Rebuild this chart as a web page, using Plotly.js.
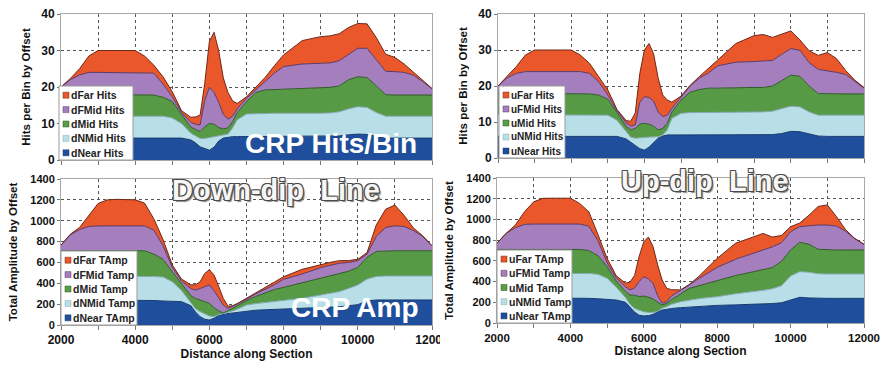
<!DOCTYPE html>
<html>
<head>
<meta charset="utf-8">
<script src="https://cdn.plot.ly/plotly-3.0.1.min.js"></script>
<style>html,body{margin:0;padding:0;background:#fff;}#chart{width:881px;height:368px;}</style>
</head>
<body>
<div id="chart"></div>
<script>
// Distance along section (shared x positions of every series)
const distance = [2000,2250,2500,2750,3000,3250,3500,4000, 4250,4500,4750,5000,5250, 5500,5625,5750,5875,6000,6125, 6250,6375,6500,6625,6750,7000, 7250,7500,7750,8000,8500,9000,9250, 9500,9750,10000,10250,10500,10750,11000, 11250,11500,11750,12000];

// Values are the stacked level (top of each band).
// ---- Down-dip line, hits per bin ----
const dNearHits = [6,6,6,6,6,6,6,6, 6,6,6,6,6, 5.5,4.7,3.6,3.2,2.7,3.5, 5.2,6,6.3,6.4,6.4,6.4, 6.5,6.5,6.5,6.5,6.5,6.5,6.5, 6.6,6.9,7.1,7,6.5,6,6, 6,6,6,6];
const dNMidHits = [12,12,12,12,12,12,12,12, 12,12,12,11.5,10, 7.3,6.5,5.9,5.9,6.1,6.3, 6.5,6.8,7.1,8.8,11,12.6, 12.7,12.8,12.8,12.8,12.7,12.8,12.9, 13.2,14,14.6,14.4,13,12,12, 12,12,12,12];
const dMidHits = [18,18,18,18,18,18,18,18, 18,17.8,17.2,16,12.5, 9,8.4,7.8,9.1,10,9.8, 8.9,8.5,8.8,10.5,13,16, 18.5,19.2,19.4,19.4,19.6,19.8,19.9, 20.3,22,22.8,22.6,20.3,17.9,17.8, 17.8,17.8,17.8,17.8];
const dFMidHits = [20,22,23.3,24,24,24,24,24, 24,23.8,20.8,17.3,13, 10.3,9.8,9.6,16.3,19.9,18.5, 15.8,12.5,11.2,12,14,16.9, 19.2,21.3,23.8,25.6,26.3,26.5,26.6, 27.2,29,30.6,30.6,27.5,24.3,24.2, 24,23.2,21.5,19.5];
const dFarHits = [20,22.3,25,28.5,30,30,30,30, 28.5,26,22.8,18.7,13.5, 11.7,11.8,12.3,21,32.5,35, 30,22.5,18.5,16.2,15.5,17.3, 20,22.6,25.8,28.8,32.7,33.8,34, 34.6,36.3,37.4,37.3,33.5,29,28.1, 26.3,24,21.8,19.6];

// ---- Up-dip line, hits per bin ----
const uNearHits = [6,6,6,6,6,6,6,6, 6,6,6,6,6, 5.3,4.3,3.5,2.6,2.2,3, 4.3,5.5,6.1,6.4,6.4,6.4, 6.4,6.4,6.4,6.4,6.4,6.4,6.4, 6.5,6.8,7.4,7.3,6.6,6.1,6, 6,6,6,6];
const uNMidHits = [12,12,12,12,12,12,12,12, 12,12,12,11.9,10.5, 7.2,5.8,5.5,5.5,5.7,5.8, 5.9,5.9,6.4,7.8,11,12.4, 12.6,12.6,12.6,12.6,12.6,12.6,12.8, 13,13.7,14.4,14.2,12.8,11.9,11.9, 11.9,11.9,11.9,11.9];
const uMidHits = [18,18,18,18,18,18,18,18, 18,17.8,17.5,16.3,12.7, 8.8,7.8,8.2,9.4,9.6,9.4, 8.8,7.8,8.2,9.6,12.8,16.1, 18.3,19,19.4,19.4,19.6,19.6,19.6, 20,21.5,23,22.7,20,17.9,17.8, 17.8,17.8,17.8,17.8];
const uFMidHits = [20,22.3,23.5,24,24,24,24,24, 24,23.5,21.2,17.5,13.2, 9.8,8.9,9.2,15.5,17,16.8, 15.8,12.8,11.5,11.9,13.8,17, 20,22.2,23.6,25.6,26.6,26.8,26.9, 27.1,28.8,30.4,29.9,26.5,24.6,24.3, 23.8,23.2,21.3,19.4];
const uFarHits = [20,22.8,25.4,28.6,30,30,30,30, 28.6,26.3,22.6,18.9,13.5, 10.4,10.2,12.5,23.5,30,31.8, 29,22.3,17.5,16.1,15.5,17.2, 20.2,22.6,25,27.2,31.8,34,34.3, 33.5,34.4,35.3,32.8,29.8,28.5,29.3, 27.6,24.3,21.6,19.6];

// ---- Down-dip line, total amplitude ----
const dNearTAmp = [240,240,240,240,240,240,240,240, 240,235,230,224,224, 185,125,80,55,48,65, 92,103,110,115,120,135, 142,146,150,150,155,165,170, 175,185,195,230,240,240,240, 240,240,240,240];
const dNMidTamp = [470,470,470,470,470,470,470,470, 470,465,460,415,330, 210,155,128,105,86,80, 100,110,120,135,150,192, 205,215,225,240,256,288,305, 320,350,383,440,465,470,470, 470,470,470,470];
const dMidTamp = [710,712,712,712,712,712,712,712, 712,680,630,511,390, 280,255,240,225,208,165, 135,115,140,160,185,233, 275,310,340,361,406,447,468, 490,515,553,650,705,712,712, 712,712,712,712];
const dFMidTamp = [765,865,915,945,950,950,950,950, 950,910,760,553,420, 350,335,350,367,383,330, 265,190,160,180,200,246, 300,345,385,438,489,550,572, 592,600,617,680,850,935,950, 945,905,850,760];
const dFarTAmp = [765,870,935,1055,1165,1200,1205,1200, 1170,1020,820,575,440, 385,385,415,495,530,480, 370,255,180,185,205,256, 305,360,405,463,534,582,600, 617,618,630,695,960,1110,1150, 1050,930,855,760];

// ---- Up-dip line, total amplitude ----
const uNearTAmp = [245,245,245,245,245,245,245,245, 245,238,234,228,222, 200,150,105,75,68,72, 82,108,125,132,140,148, 155,160,165,170,175,180,183, 188,195,222,248,242,238,238, 238,238,238,238];
const uNMidTamp = [475,475,475,475,475,475,475,475, 475,478,470,431,345, 245,180,140,123,108,102, 102,112,142,158,180,206, 222,235,245,254,282,302,315, 330,360,454,496,490,475,473, 473,473,473,473];
const uMidTamp = [710,710,710,710,710,710,710,710, 710,700,650,544,405, 305,270,268,255,260,250, 232,205,174,190,225,280, 335,360,385,415,458,496,512, 535,595,705,780,760,712,705, 705,705,705,705];
const uFMidTamp = [770,866,920,952,955,955,955,955, 955,935,795,582,435, 350,320,338,400,447,425, 385,265,192,205,260,312, 370,430,480,537,615,673,705, 735,775,882,930,940,946,946, 936,885,815,760];
const uFarTAmp = [770,866,946,1075,1170,1204,1205,1205, 1155,1075,855,624,455, 385,395,460,645,785,830, 740,565,415,335,322,319, 375,450,535,624,770,833,865, 830,845,930,965,1040,1125,1140, 1027,900,815,760];

// Series names (near -> far)
const dHitsNames = ['dNear Hits','dNMid Hits','dMid Hits','dFMid Hits','dFar Hits'];
const uHitsNames = ['uNear Hits','uNMid Hits','uMid Hits','uFMid Hits','uFar Hits'];
const dAmpNames = ['dNear TAmp','dNMid Tamp','dMid Tamp','dFMid Tamp','dFar TAmp'];
const uAmpNames = ['uNear TAmp','uNMid Tamp','uMid Tamp','uFMid Tamp','uFar TAmp'];

const yTitles = ['Hits per Bin by Offset','Total Amplitude by Offset'];
const xTitle = 'Distance along Section';

// ---------------- styling ----------------
const W = 881, H = 368;
const PX = v => v / W;
const PY = v => 1 - v / H;
const FONT = 'Liberation Sans, Arial, Helvetica, sans-serif';

const fillColors = ['#1f4f9c', '#b8dfe8', '#5a9d47', '#a57ebe', '#e9572b'];
const lineColors = ['#15386f', '#86aab5', '#2f5a26', '#5a3a6a', '#6e2818'];
const GRID = '#555555';

const panels = [
  {ax: '', names: dHitsNames, data: [dNearHits,dNMidHits,dMidHits,dFMidHits,dFarHits],
   xd: [61, 432], yd: [14, 160], yr: [0, 40], dt: 10, leg: [59, 133, 86, 160], fs: 10.5, xlab: false, xfs: 12, ytitle: yTitles[0]},
  {ax: '2', names: uHitsNames, data: [uNearHits,uNMidHits,uMidHits,uFMidHits,uFarHits],
   xd: [498, 864], yd: [14, 158], yr: [0, 40], dt: 10, leg: [499, 565, 86, 158], fs: 10, xlab: false, xfs: 12, ytitle: yTitles[0]},
  {ax: '3', names: dAmpNames, data: [dNearTAmp,dNMidTamp,dMidTamp,dFMidTamp,dFarTAmp],
   xd: [61, 432], yd: [179, 325], yr: [0, 1400], dt: 200, leg: [61, 137, 251, 325], fs: 10.5, xlab: true, xfs: 12, ytitle: yTitles[1]},
  {ax: '4', names: uAmpNames, data: [uNearTAmp,uNMidTamp,uMidTamp,uFMidTamp,uFarTAmp],
   xd: [497, 864], yd: [178, 323], yr: [0, 1400], dt: 200, leg: [497, 572, 250, 323], fs: 10.5, xlab: true, xfs: 11.5, ytitle: yTitles[1]}
];

const traces = [];
const shapes = [];
const annotations = [];
const layout = {
  width: W, height: H, autosize: false,
  margin: {l: 0, r: 0, t: 0, b: 0},
  paper_bgcolor: '#ffffff', plot_bgcolor: '#ffffff',
  showlegend: false,
  font: {family: FONT, color: '#111'}
};

panels.forEach(p => {
  p.data.forEach((vals, i) => {
    const t = {
      type: 'scatter', mode: 'lines', name: p.names[i],
      x: distance, y: vals,
      xaxis: 'x' + p.ax, yaxis: 'y' + p.ax,
      fill: i === 0 ? 'tozeroy' : 'tonexty',
      fillcolor: fillColors[i],
      line: {color: lineColors[i], width: 1},
      hoverinfo: 'x+y+name'
    };
    if (i === 2) {
      t.fillpattern = {shape: '.', size: 2, solidity: 0.3, fgcolor: '#4a8a3c', bgcolor: '#5b9f48'};
    }
    traces.push(t);
  });

  layout['xaxis' + p.ax] = {
    domain: [PX(p.xd[0]), PX(p.xd[1])], anchor: 'y' + p.ax,
    range: [2000, 12000], tick0: 2000, dtick: 2000, tickformat: 'd',
    showticklabels: p.xlab, ticklabeloverflow: 'allow',
    tickfont: {family: FONT, size: p.xfs, weight: 'bold', color: '#111'},
    ticks: 'outside', ticklen: 4, tickcolor: '#777',
    showgrid: true, gridcolor: GRID, griddash: 'dot', gridwidth: 1,
    minor: {dtick: 1000, showgrid: true, gridcolor: GRID, griddash: 'dot', gridwidth: 1, ticks: 'outside', ticklen: 4, tickcolor: '#777'},
    showline: true, mirror: true, linecolor: '#a8a8a8', linewidth: 1,
    zeroline: false,
    title: p.xlab ? {text: xTitle, font: {family: FONT, size: 12, weight: 'bold', color: '#111'}, standoff: 2} : {text: ''}
  };
  layout['yaxis' + p.ax] = {
    domain: [PY(p.yd[1]), PY(p.yd[0])], anchor: 'x' + p.ax,
    range: p.yr, dtick: p.dt, tickformat: 'd',
    tickfont: {family: FONT, size: p.dt === 10 ? 12 : 11, weight: 'bold', color: '#111'},
    ticks: 'outside', ticklen: 3, tickcolor: '#777',
    showgrid: true, gridcolor: GRID, griddash: 'dot', gridwidth: 1,
    showline: true, mirror: true, linecolor: '#a8a8a8', linewidth: 1,
    zeroline: false,
    title: {text: p.ytitle, font: {family: FONT, size: 11.5, weight: 'bold', color: '#111'}, standoff: p.dt === 10 ? 8 : 10}
  };

  // legend box drawn over the plot area (far at top, near at bottom)
  const [lx0, lx1, ly0, ly1] = p.leg;
  shapes.push({type: 'rect', xref: 'paper', yref: 'paper', layer: 'above',
    x0: PX(lx0), x1: PX(lx1), y0: PY(ly1), y1: PY(ly0),
    fillcolor: '#ffffff', line: {color: '#9a9a9a', width: 1}});
  const step = (ly1 - ly0 - 2) / 5;
  for (let k = 0; k < 5; k++) {
    const i = 4 - k;
    const cy = ly0 + 1 + step * (k + 0.5) + 1;
    shapes.push({type: 'rect', xref: 'paper', yref: 'paper', layer: 'above',
      x0: PX(lx0 + 4), x1: PX(lx0 + 10), y0: PY(cy + 3), y1: PY(cy - 3),
      fillcolor: fillColors[i], line: {color: lineColors[i], width: 0.5}});
    annotations.push({text: p.names[i], xref: 'paper', yref: 'paper',
      x: PX(lx0 + 11), y: PY(cy), xanchor: 'left', yanchor: 'middle', showarrow: false,
      borderpad: 0,
      font: {family: FONT, size: p.fs, weight: 'bold', color: '#222'}});
  }
});

// big captions
const outline = '-1px -1px 0 #4a4a4a, 1px -1px 0 #4a4a4a, -1px 1px 0 #4a4a4a, 1px 1px 0 #4a4a4a, 2px 2px 1px #8a8a8a';
annotations.push(
  {text: 'CRP Hits/Bin', xref: 'paper', yref: 'paper', x: PX(331), y: PY(143), xanchor: 'center', yanchor: 'middle', showarrow: false,
   font: {family: FONT, size: 28, weight: 'bold', color: '#ffffff'}},
  {text: 'CRP Amp', xref: 'paper', yref: 'paper', x: PX(355), y: PY(307), xanchor: 'center', yanchor: 'middle', showarrow: false,
   font: {family: FONT, size: 28, weight: 'bold', color: '#ffffff'}},
  {text: 'Down-dip\u00a0 Line', xref: 'paper', yref: 'paper', x: PX(276), y: PY(190), xanchor: 'center', yanchor: 'middle', showarrow: false,
   font: {family: FONT, size: 29, weight: 'bold', color: '#f6f6f6', shadow: outline}},
  {text: 'Up-dip\u00a0 Line', xref: 'paper', yref: 'paper', x: PX(705), y: PY(181), xanchor: 'center', yanchor: 'middle', showarrow: false,
   font: {family: FONT, size: 29, weight: 'bold', color: '#f6f6f6', shadow: outline}}
);

// the right-hand chart overlaps the end of the left chart's last x label
shapes.push({type: 'rect', xref: 'paper', yref: 'paper', layer: 'above',
  x0: PX(440), x1: PX(472), y0: PY(349), y1: PY(331), fillcolor: '#ffffff', line: {width: 0}});

layout.shapes = shapes;
layout.annotations = annotations;

Plotly.newPlot('chart', traces, layout, {displayModeBar: false, staticPlot: true});
</script>
</body>
</html>
